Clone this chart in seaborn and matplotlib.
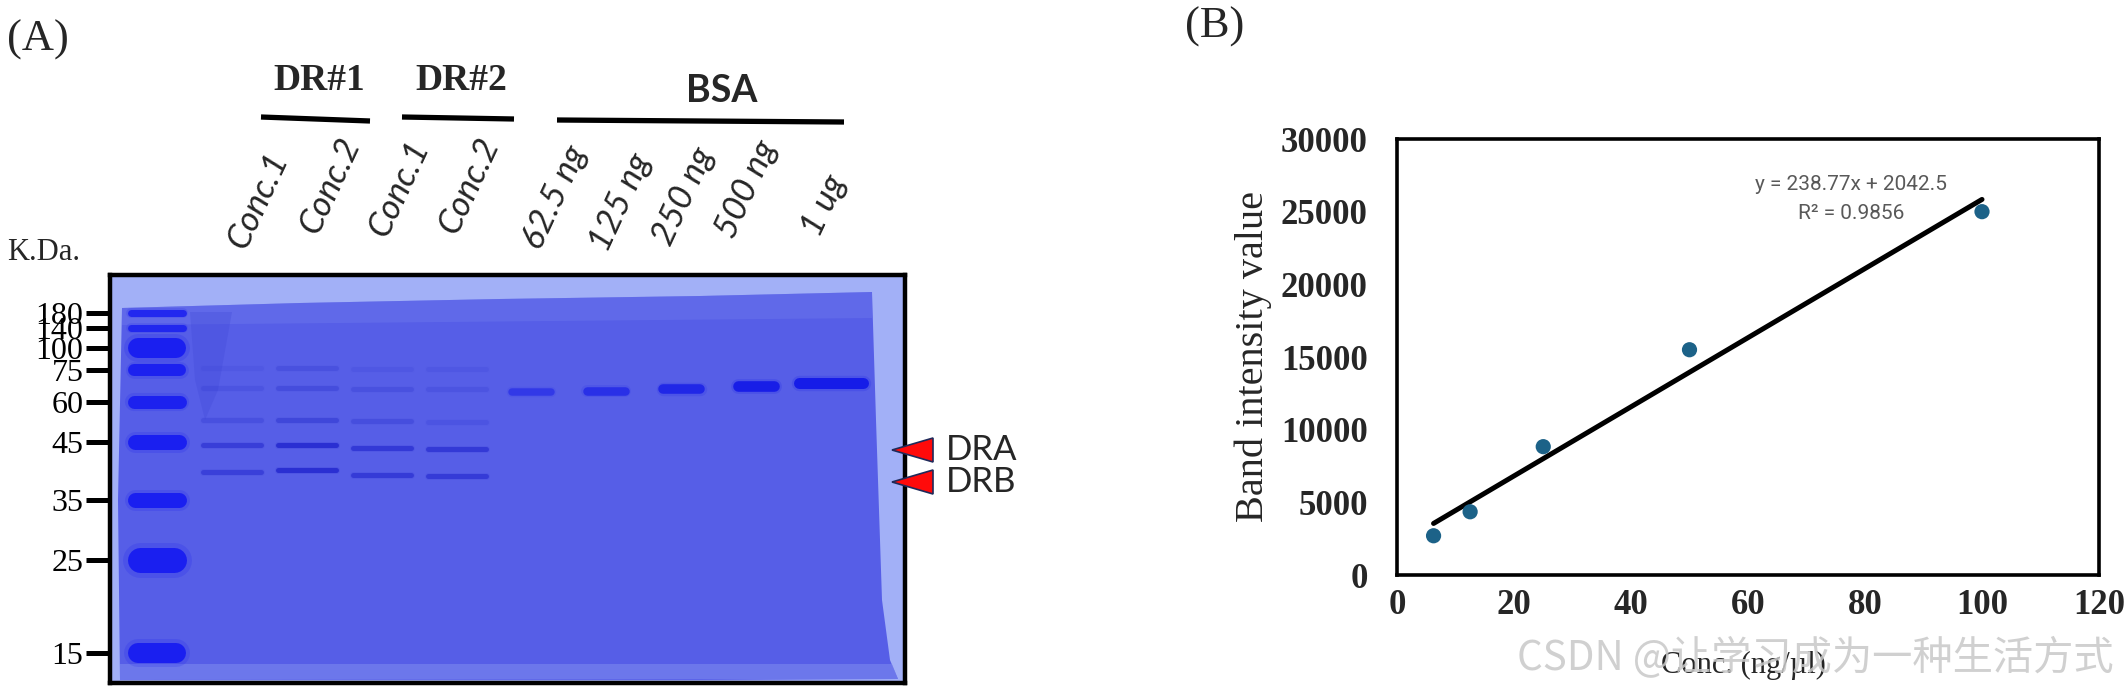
import numpy as np
import pandas as pd
import matplotlib
matplotlib.use("Agg")
import matplotlib.pyplot as plt
import seaborn as sns

# ------------------------------------------------------------------ data
# (B) standard curve
conc = [6.25, 12.5, 25, 50, 100]
intensity = [2700, 4350, 8830, 15500, 25000]
x_ticks = [0, 20, 40, 60, 80, 100, 120]
y_ticks = [0, 5000, 10000, 15000, 20000, 25000, 30000]
equation = "y = 238.77x + 2042.5"
r2_text = "R\u00b2 = 0.9856"

# (A) gel: marker ladder (kDa) and migration (% of frame height)
marker_kda = [180, 140, 100, 75, 60, 45, 35, 25, 15]
marker_pos = [9.3, 13.0, 17.9, 23.3, 31.1, 40.9, 55.1, 69.9, 92.6]
marker_int = [0.85, 0.85, 1.0, 0.95, 0.95, 1.0, 1.0, 1.0, 1.0]

lane_labels = ["Conc.1", "Conc.2", "Conc.1", "Conc.2",
               "62.5 ng", "125 ng", "250 ng", "500 ng", "1 ug"]
groups = ["DR#1", "DR#2", "BSA"]

dr_lanes = [1, 2, 3, 4]
dra_pos = [41.7, 41.7, 42.4, 42.6]
dra_int = [0.55, 0.85, 0.65, 0.65]
drb_pos = [48.3, 47.8, 49.0, 49.3]
drb_int = [0.5, 0.85, 0.6, 0.6]
extra_pos = [[35.5, 35.5, 35.8, 36.0], [27.7, 27.7, 27.9, 28.0], [22.8, 22.8, 23.0, 23.0]]
extra_int = [[0.3, 0.55, 0.35, 0.2], [0.22, 0.38, 0.28, 0.22], [0.12, 0.28, 0.14, 0.14]]

bsa_lanes = [5, 6, 7, 8, 9]
bsa_pos = [28.7, 28.4, 27.9, 27.2, 26.5]
bsa_int = [0.5, 0.65, 0.8, 0.95, 1.0]

# ------------------------------------------------------------------ style
sns.set_theme(style="white")
SERIF = "Liberation Serif"
SANS = "Lato"
plt.rcParams["font.family"] = ["DejaVu Sans"]

W, H = 2128, 693
fig = plt.figure(figsize=(W / 100, H / 100), dpi=100)
fig.patch.set_facecolor("white")


def fxy(px, py):
    return px / W, 1 - py / H


# ------------------------------------------------------------------ (A) gel
gx0, gx1, gy0, gy1 = 110, 905, 275, 683
axA = fig.add_axes([gx0 / W, 1 - gy1 / H, (gx1 - gx0) / W, (gy1 - gy0) / H])
LANE0, LANE_W = 157, 74.9


def X(px):
    return (px - LANE0) / LANE_W


def Y(py):
    return (py - gy0) / ((gy1 - gy0) / 100.0)


axA.set_xlim(X(gx0), X(gx1))
axA.set_ylim(100, 0)
axA.set_facecolor("#a2b0f7")
for s in axA.spines.values():
    s.set_linewidth(3.2)
    s.set_color("black")
    s.set_visible(True)

# gel body
gel_px = [(122, 308), (300, 303), (500, 299), (700, 296), (872, 292), (876, 420),
          (882, 600), (890, 660), (898, 679), (700, 680), (300, 680), (120, 680), (118, 500)]
axA.fill([X(p[0]) for p in gel_px], [Y(p[1]) for p in gel_px], color="#565ee7", zorder=1, lw=0)
# lighter well region at the top of the gel
top_px = [(122, 308), (300, 303), (500, 299), (700, 296), (872, 292), (872, 318), (122, 325)]
axA.fill([X(p[0]) for p in top_px], [Y(p[1]) for p in top_px], color="#7480ee", alpha=0.35, zorder=1, lw=0)
# lighter bottom strip
bot_px = [(120, 664), (892, 664), (898, 679), (120, 680)]
axA.fill([X(p[0]) for p in bot_px], [Y(p[1]) for p in bot_px], color="#7c88ee", alpha=0.6, zorder=1, lw=0)
# smear in first lane
sm_px = [(190, 312), (232, 312), (218, 390), (205, 420), (195, 380)]
axA.fill([X(p[0]) for p in sm_px], [Y(p[1]) for p in sm_px], color="#4048d8", alpha=0.3, zorder=1, lw=0)


def band(x, y, width, thick_px, strength, color):
    lw_core = thick_px * 0.72
    half = width / 2 - thick_px / 2 / LANE_W
    axA.plot([x - half, x + half], [y, y], color=color, lw=lw_core * 1.4,
             alpha=0.18 * strength, solid_capstyle="round", zorder=2)
    axA.plot([x - half, x + half], [y, y], color=color, lw=lw_core,
             alpha=strength, solid_capstyle="round", zorder=3)


ladder_thick = [7, 7, 20, 12, 13, 15, 15, 25, 20]
for pos, st, th in zip(marker_pos, marker_int, ladder_thick):
    band(0, pos, 0.78, th, st, "#1a1ff0")

for i, ln in enumerate(dr_lanes):
    band(ln, dra_pos[i], 0.84, 5, dra_int[i], "#2429cf")
    band(ln, drb_pos[i], 0.84, 5, drb_int[i], "#2429cf")
    for row_p, row_i in zip(extra_pos, extra_int):
        band(ln, row_p[i], 0.84, 5, row_i[i], "#3038d2")

for i, ln in enumerate(bsa_lanes):
    w = 0.62 if i < 4 else 1.0
    band(ln, bsa_pos[i], w, 4 + 7 * bsa_int[i], bsa_int[i], "#161ce8")

axA.set_xticks([])
axA.set_yticks(marker_pos)
axA.set_yticklabels([str(k) for k in marker_kda], fontsize=23, family=SERIF, color="black")
axA.tick_params(axis="y", length=17, width=3.6, pad=2, direction="out", color="black", left=True)
axA.grid(False)

# lane labels
lab_px = [(258, 200), (330, 185), (399, 188), (469, 185), (555, 197),
          (620, 202), (683, 196), (746, 189), (824, 205)]
for t, (px, py) in zip(lane_labels, lab_px):
    axA.text(X(px), Y(py), t, rotation=65, rotation_mode="anchor", ha="center", va="center",
             fontsize=25, family=SANS, style="italic", clip_on=False)

# group labels and bars
grp_px = [(319, 81), (461, 81), (722, 91)]
for g, (px, py) in zip(groups, grp_px):
    if g == "BSA":
        fig.text(*fxy(px, py), g, ha="center", va="center", fontsize=27, family=SANS, weight="bold")
    else:
        fig.text(*fxy(px, py), g, ha="center", va="center", fontsize=27, family=SERIF, weight="bold")
bar_px = [((261, 117), (370, 121)), ((402, 117), (514, 119)), ((557, 120), (844, 122))]
for (a, b) in bar_px:
    axA.plot([X(a[0]), X(b[0])], [Y(a[1]), Y(b[1])], color="black", lw=3.8, clip_on=False,
             solid_capstyle="butt")

# arrows DRA / DRB
for name, py in [("DRA", 450), ("DRB", 482)]:
    tri = [(892, py), (933, py - 12), (933, py + 12)]
    axA.fill([X(p[0]) for p in tri], [Y(p[1]) for p in tri], facecolor="#ff0a0a",
             edgecolor="#1f2a5a", lw=1.2, clip_on=False, zorder=5)
    axA.text(X(946), Y(py), name, ha="left", va="center", fontsize=25, family=SANS, clip_on=False)

fig.text(*fxy(38, 40), "(A)", ha="center", va="center", fontsize=32, family=SERIF)
fig.text(*fxy(44, 252), "K.Da.", ha="center", va="center", fontsize=22, family=SERIF)

# ------------------------------------------------------------------ (B) standard curve
bx0, bx1, by0, by1 = 1397, 2099, 139, 575
axB = fig.add_axes([bx0 / W, 1 - by1 / H, (bx1 - bx0) / W, (by1 - by0) / H])
df = pd.DataFrame({"conc": conc, "intensity": intensity})
sns.regplot(data=df, x="conc", y="intensity", ax=axB, ci=None, truncate=True,
            scatter_kws=dict(s=120, color="#1c6288", edgecolor="none", zorder=3, alpha=1),
            line_kws=dict(color="black", lw=3.6, solid_capstyle="round", zorder=2))
axB.set_xlim(0, 120)
axB.set_ylim(0, 30000)
axB.set_xticks(x_ticks)
axB.set_yticks(y_ticks)
axB.set_xticklabels([str(v) for v in x_ticks], fontsize=25, family=SERIF, weight="bold")
axB.set_yticklabels([str(v) for v in y_ticks], fontsize=25, family=SERIF, weight="bold")
axB.tick_params(axis="both", length=0)
axB.tick_params(axis="y", pad=21)
axB.tick_params(axis="x", pad=10)
for s in axB.spines.values():
    s.set_linewidth(2.6)
    s.set_color("black")
    s.set_visible(True)
axB.grid(False)
axB.set_ylabel("Band intensity value", fontsize=29, family=SERIF)
axB.yaxis.set_label_coords(-0.178, 0.5)
axB.set_xlabel("Conc. (ng/\u00b5l)", fontsize=22, family=SERIF)
axB.xaxis.set_label_coords(0.493, -0.175)
axB.text(77.6, 26835, equation, ha="center", va="center", fontsize=15, family="Roboto", color="#595959")
axB.text(77.6, 24908, r2_text, ha="center", va="center", fontsize=15, family="Roboto", color="#595959")

fig.text(*fxy(1215, 27), "(B)", ha="center", va="center", fontsize=32, family=SERIF)

# watermark
fig.text(*fxy(1815, 658), "CSDN @让学习成为一种生活方式", ha="center", va="center", fontsize=29,
         family=["Noto Sans CJK SC", "DejaVu Sans"], color="#c8c8c8", alpha=0.85, zorder=10)

fig.savefig("out.png", dpi=100, facecolor="white")
